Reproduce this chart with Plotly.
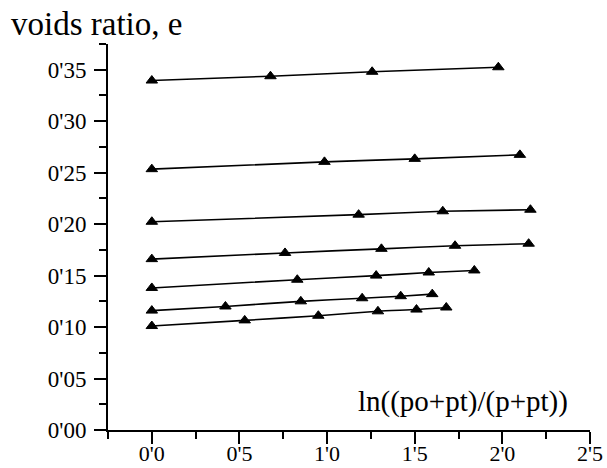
import plotly.graph_objects as go

# Data (x = ln((po+pt)/(p+pt)), y = voids ratio e)
x1 = [0.0, 0.677, 1.257, 1.977]
y1 = [0.3395, 0.3437, 0.3480, 0.3524]
x2 = [0.0, 0.985, 1.50, 2.10]
y2 = [0.2534, 0.2605, 0.2634, 0.2673]
x3 = [0.0, 1.18, 1.66, 2.16]
y3 = [0.2023, 0.2092, 0.2125, 0.2140]
x4 = [0.0, 0.76, 1.31, 1.73, 2.15]
y4 = [0.166, 0.172, 0.176, 0.179, 0.181]
x5 = [0.0, 0.83, 1.28, 1.58, 1.84]
y5 = [0.138, 0.146, 0.150, 0.153, 0.155]
x6 = [0.0, 0.42, 0.85, 1.20, 1.42, 1.60]
y6 = [0.116, 0.120, 0.125, 0.128, 0.130, 0.132]
x7 = [0.0, 0.53, 0.95, 1.29, 1.51, 1.68]
y7 = [0.101, 0.1065, 0.111, 0.1153, 0.117, 0.119]

x_tickvals = [0, 0.5, 1.0, 1.5, 2.0, 2.5]
x_ticktext = ["0'0", "0'5", "1'0", "1'5", "2'0", "2'5"]
y_tickvals = [0, 0.05, 0.10, 0.15, 0.20, 0.25, 0.30, 0.35]
y_ticktext = ["0'00", "0'05", "0'10", "0'15", "0'20", "0'25", "0'30", "0'35"]

series = [(x1, y1), (x2, y2), (x3, y3), (x4, y4), (x5, y5), (x6, y6), (x7, y7)]

FONT = "Liberation Serif, Times New Roman, serif"

fig = go.Figure()
for xs, ys in series:
    fig.add_trace(go.Scatter(
        x=xs, y=ys, mode="lines+markers",
        line=dict(color="black", width=1.6, shape="spline", smoothing=0.6),
        marker=dict(symbol="triangle-up", size=10, color="black",
                    line=dict(color="black", width=1)),
        showlegend=False, hoverinfo="skip",
    ))

fig.update_layout(
    width=607, height=468,
    margin=dict(l=108, r=17, t=44, b=38),
    paper_bgcolor="white", plot_bgcolor="white",
    font=dict(family=FONT, color="black", size=23),
    xaxis=dict(
        range=[-0.25, 2.5], showgrid=False, zeroline=False, automargin=False,
        showline=True, linecolor="black", linewidth=2,
        ticks="outside", ticklen=12, tickwidth=2, tickcolor="black",
        tickvals=x_tickvals, ticktext=x_ticktext, ticklabelstandoff=-9,
        tickfont=dict(family=FONT, size=22, color="black"),
        minor=dict(dtick=0.25, tick0=0, ticks="outside", ticklen=7,
                   tickwidth=2, tickcolor="black", showgrid=False),
    ),
    yaxis=dict(
        range=[0, 0.375], showgrid=False, zeroline=False, automargin=False,
        showline=True, linecolor="black", linewidth=2,
        ticks="outside", ticklen=12, tickwidth=2, tickcolor="black",
        tickvals=y_tickvals, ticktext=y_ticktext, ticklabelstandoff=3,
        tickfont=dict(family=FONT, size=23, color="black"),
        minor=dict(dtick=0.025, tick0=0, ticks="outside", ticklen=7,
                   tickwidth=2, tickcolor="black", showgrid=False),
    ),
    annotations=[
        dict(text="voids ratio, e", xref="paper", yref="paper",
             x=-0.205, y=1.0, xanchor="left", yanchor="bottom", yshift=0,
             showarrow=False, font=dict(family=FONT, size=33, color="black")),
        dict(text="ln((po+pt)/(p+pt))", xref="paper", yref="paper",
             x=0.958, y=0.073, xanchor="right", yanchor="middle",
             showarrow=False, font=dict(family=FONT, size=29, color="black")),
    ],
)

fig.write_html("out.html", config={"displayModeBar": False},
               post_script="document.body.style.margin='0';")
